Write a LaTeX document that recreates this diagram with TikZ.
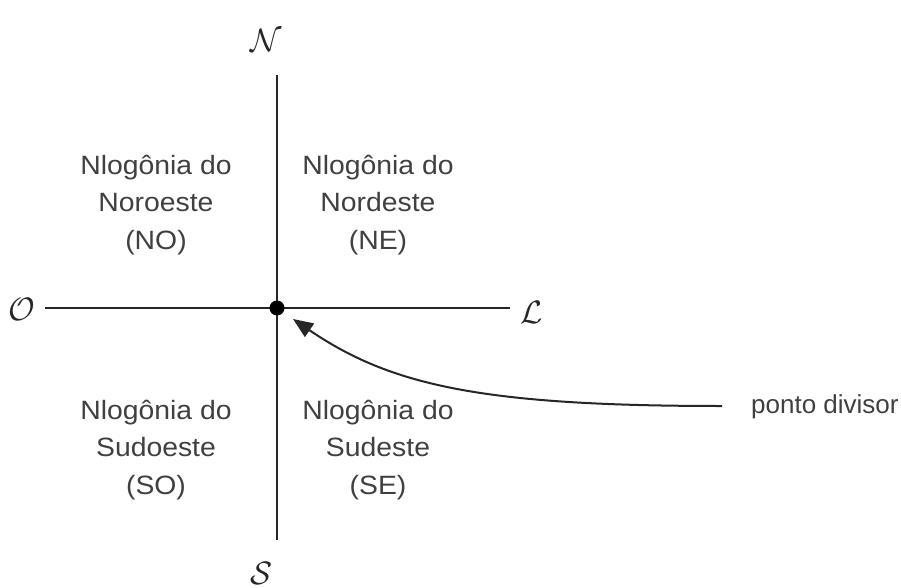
\documentclass[tikz,border=0pt]{standalone}
\usepackage{fontspec}
\setmainfont{Liberation Sans}
\usetikzlibrary{arrows.meta}
\newcommand{\dirlet}[1]{\scalebox{1.3}{\Huge$\mathcal{#1}$}}
\begin{document}
\begin{tikzpicture}[x=1pt,y=-1pt,
  axis/.style={line width=2.6pt, black!85},
  region/.style={align=center, font=\fontsize{26.5}{37.5}\selectfont, text=black!75, inner sep=0pt, xscale=1.07},
  dir/.style={inner sep=0pt, text=black!85},
  lbl/.style={font=\fontsize{26}{30}\selectfont, text=black!75, inner sep=0pt, anchor=west}]
\useasboundingbox (0,0) rectangle (901,588);
\coordinate (nt) at (277,75);
\coordinate (sb) at (277,540);
\coordinate (wl) at (45,308);
\coordinate (er) at (510,308);
\draw[axis] (nt) -- (sb);
\draw[axis] (wl) -- (er);
\node[circle, fill=black, inner sep=0pt, minimum size=15pt] (dot) at (277,308) {};
\node[dir] (N) at (266,40) {\dirlet{N}};
\node[dir] (O) at (22,309) {\dirlet{O}};
\node[dir] (L) at (532,312) {\dirlet{L}};
\node[dir] (S) at (262,573) {\dirlet{S}};
\node[region] (NO) at (156,205) {Nlogônia do\\Noroeste\\(NO)};
\node[region] (NE) at (378,205) {Nlogônia do\\Nordeste\\(NE)};
\node[region] (SO) at (156,450) {Nlogônia do\\Sudoeste\\(SO)};
\node[region] (SE) at (378,450) {Nlogônia do\\Sudeste\\(SE)};
\node[lbl] (pd) at (751,407) {ponto divisor};
\coordinate (as) at (722,406);
\draw[line width=2pt, black!85, -{Triangle[length=20pt,width=16pt]}] (as) .. controls (480,406) and (390,385) .. (293,319);
\end{tikzpicture}
\end{document}
